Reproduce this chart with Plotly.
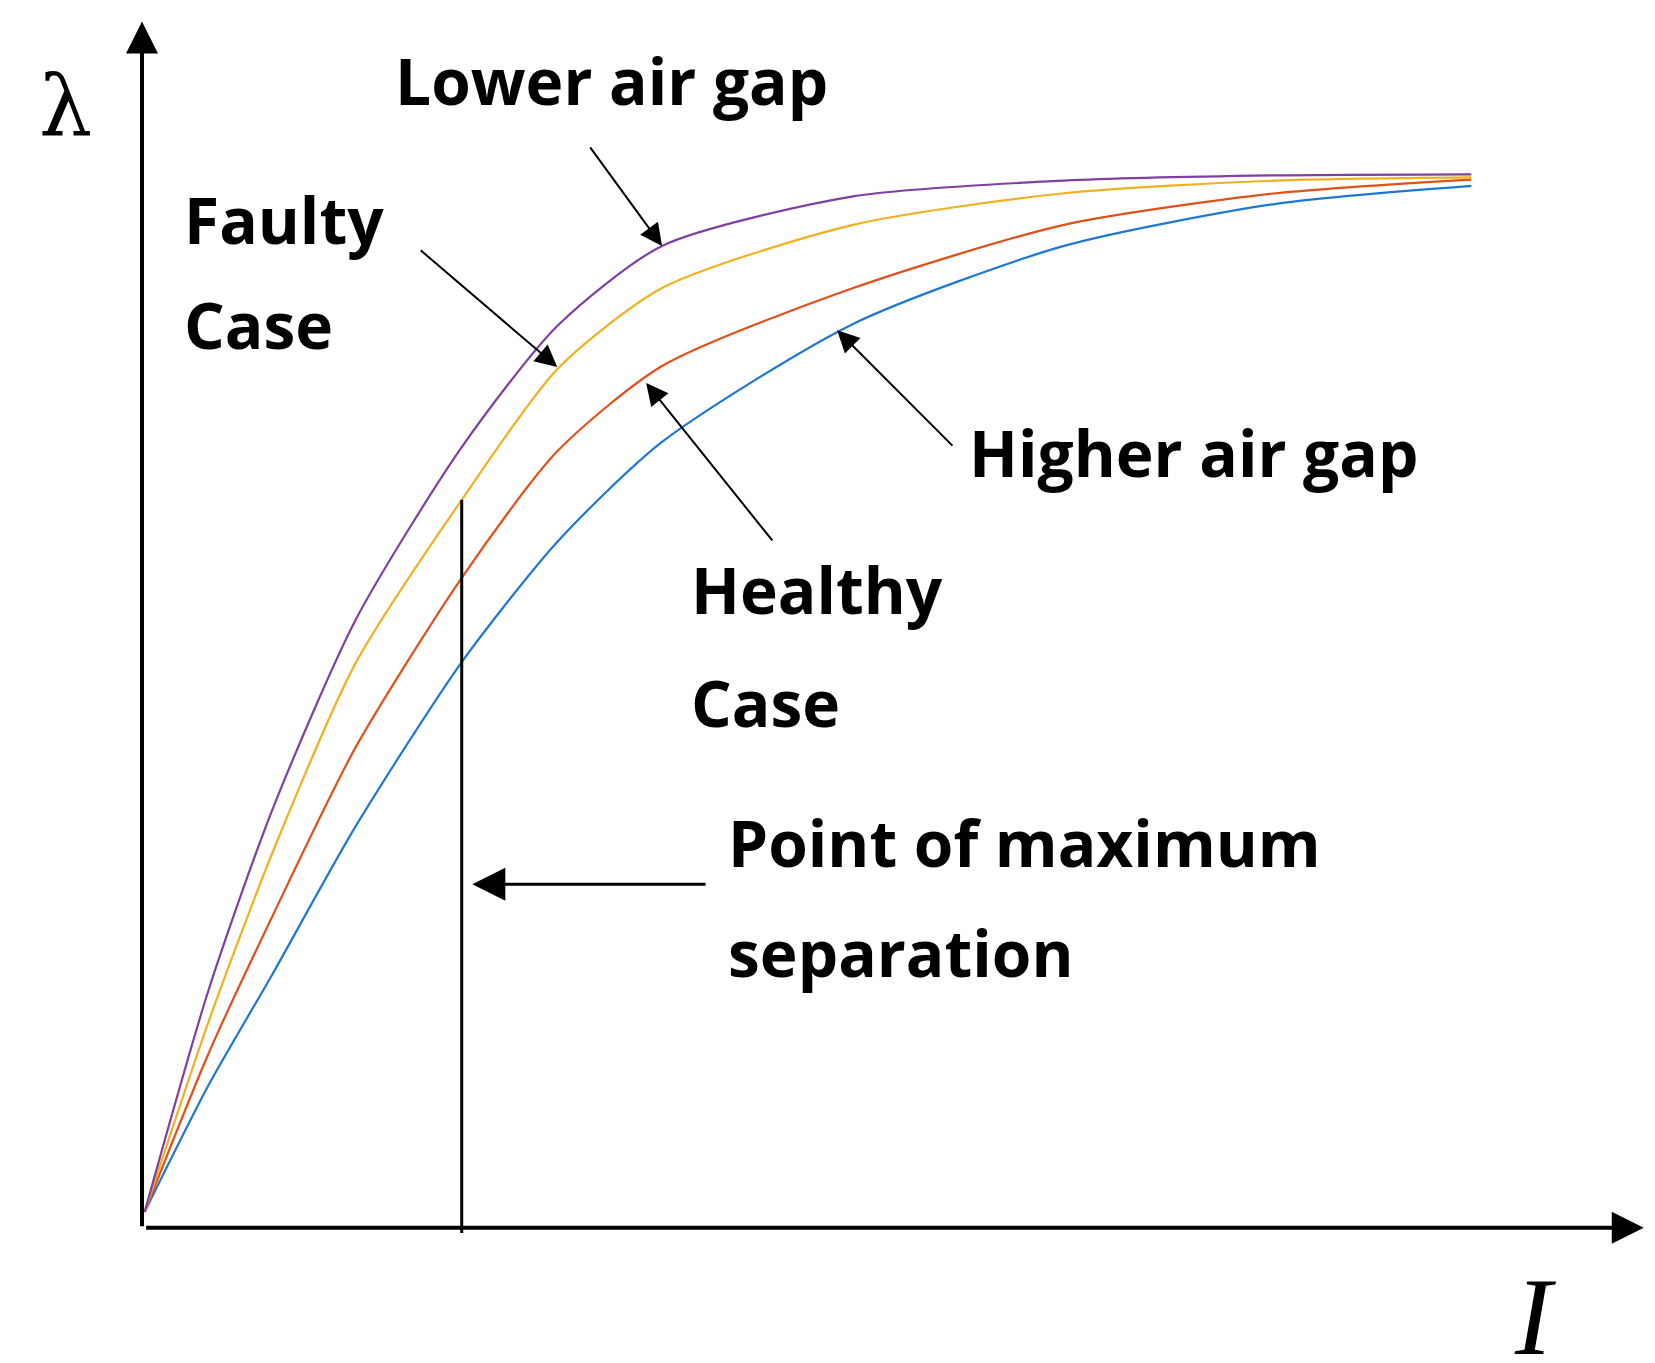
import plotly.graph_objects as go

I_vals = [0, 4.8, 9.6, 15.9, 23.9, 31.1, 39.0, 53.4, 69.3, 85.3, 100]
lam_lower = [1.5, 22.5, 39.6, 57.7, 74.1, 85.6, 93.2, 97.9, 99.4, 99.9, 100]
lam_faulty = [1.5, 19.5, 35.5, 53.6, 69.1, 81.5, 89.2, 95.2, 98.2, 99.4, 99.7]
lam_healthy = [1.5, 16.5, 29.5, 45.6, 61.7, 73.7, 81.8, 89.2, 95.2, 98.2, 99.5]
lam_higher = [1.5, 13.5, 24.0, 38.1, 53.7, 65.1, 74.6, 85.8, 93.2, 97.2, 98.9]
sep_I = 23.9
sep_lam = 69.1

fig = go.Figure()
for ys, c in [(lam_higher, "#1f77d4"), (lam_healthy, "#e0501a"), (lam_faulty, "#f0b020"), (lam_lower, "#8040a0")]:
    fig.add_trace(go.Scatter(x=I_vals, y=ys, mode="lines", line=dict(color=c, width=2.2, shape="spline", smoothing=0.7), showlegend=False))
fig.add_trace(go.Scatter(x=[sep_I, sep_I], y=[-0.5, sep_lam], mode="lines", line=dict(color="black", width=3), showlegend=False))

F = dict(family="Open Sans", size=64, color="black")
texts = [("<b>Lower air gap</b>", 18.7, 108.9), ("<b>Faulty</b>", 2.8, 95.7), ("<b>Case</b>", 2.8, 85.7),
         ("<b>Higher air gap</b>", 62.0, 73.6), ("<b>Healthy</b>", 41.0, 60.6), ("<b>Case</b>", 41.0, 49.9),
         ("<b>Point of maximum</b>", 43.8, 36.6), ("<b>separation</b>", 43.8, 26.1)]
for t, x, y in texts:
    fig.add_annotation(x=x, y=y, text=t, showarrow=False, xanchor="left", yanchor="middle", font=F)
fig.add_annotation(x=-6, y=106.5, text="λ", showarrow=False, font=dict(family="DejaVu Serif", size=84, color="black"))
fig.add_annotation(x=104.8, y=-8.5, text="<i>I</i>", showarrow=False, font=dict(family="Liberation Serif", size=110, color="black"))

arrows = [(33.5, 102.7, 39.0, 93.2, 2), (20.7, 92.9, 31.1, 81.7, 2), (61.0, 74.1, 52.2, 85.2, 2),
          (47.4, 65.1, 37.8, 80.2, 2), (42.4, 32.6, 24.7, 32.6, 3)]
for x0, y0, x1, y1, w in arrows:
    fig.add_annotation(x=x1, y=y1, ax=x0, ay=y0, xref="x", yref="y", axref="x", ayref="y", text="",
                       showarrow=True, arrowhead=2, arrowsize=2.2, arrowwidth=w, arrowcolor="black")
# axes
fig.add_annotation(x=113, y=0, ax=0, ay=0, axref="x", ayref="y", text="", showarrow=True, arrowhead=2, arrowsize=1.6, arrowwidth=4, arrowcolor="black")
fig.add_annotation(x=-0.2, y=114.5, ax=-0.2, ay=0, axref="x", ayref="y", text="", showarrow=True, arrowhead=2, arrowsize=1.6, arrowwidth=4, arrowcolor="black")

fig.update_xaxes(range=[-10, 114], visible=False)
fig.update_yaxes(range=[-13.5, 115.5], visible=False)
fig.update_layout(width=1655, height=1363, margin=dict(l=4, r=6, t=3, b=1),
                  plot_bgcolor="white", paper_bgcolor="white")
fig.write_html("out.html")
